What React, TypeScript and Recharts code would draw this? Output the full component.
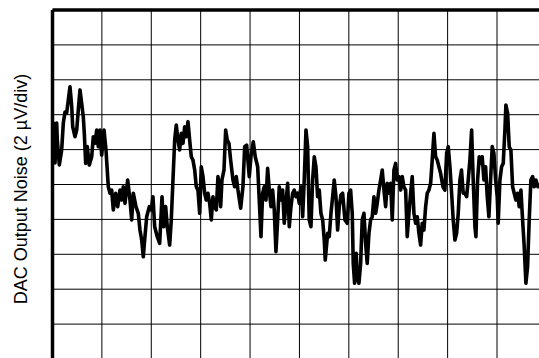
import React from "react";
import { LineChart, Line, XAxis, YAxis, CartesianGrid, ReferenceLine } from "recharts";

// time in divisions (10 div across), noise in µV (2 µV/div, 0..20)
const timeDiv: number[] = [
  0.030, 0.051, 0.085, 0.097, 0.138, 0.186, 0.219, 0.253, 0.287, 0.320,
  0.354, 0.389, 0.409, 0.455, 0.490, 0.522, 0.557, 0.591, 0.623, 0.644,
  0.672, 0.704, 0.745, 0.794, 0.826, 0.860, 0.895, 0.927, 0.962, 0.996,
  1.043, 1.083, 1.130, 1.164, 1.198, 1.231, 1.279, 1.320, 1.366, 1.401,
  1.433, 1.468, 1.522, 1.569, 1.603, 1.636, 1.690, 1.737, 1.771, 1.806,
  1.838, 1.872, 1.907, 1.960, 2.000, 2.034, 2.069, 2.121, 2.170, 2.217,
  2.251, 2.291, 2.324, 2.372, 2.405, 2.439, 2.474, 2.506, 2.540, 2.575,
  2.607, 2.642, 2.676, 2.709, 2.743, 2.777, 2.810, 2.844, 2.879, 2.911,
  2.945, 2.980, 3.012, 3.047, 3.081, 3.113, 3.148, 3.182, 3.215, 3.249,
  3.283, 3.316, 3.350, 3.385, 3.405, 3.431, 3.472, 3.506, 3.538, 3.573,
  3.607, 3.654, 3.688, 3.721, 3.755, 3.810, 3.856, 3.891, 3.931, 3.984,
  4.018, 4.065, 4.105, 4.154, 4.186, 4.221, 4.255, 4.287, 4.322, 4.356,
  4.389, 4.423, 4.457, 4.490, 4.524, 4.559, 4.591, 4.626, 4.660, 4.692,
  4.727, 4.761, 4.794, 4.828, 4.862, 4.895, 4.929, 4.964, 4.996, 5.030,
  5.065, 5.097, 5.132, 5.166, 5.198, 5.233, 5.267, 5.300, 5.334, 5.368,
  5.401, 5.435, 5.470, 5.502, 5.522, 5.571, 5.603, 5.638, 5.672, 5.704,
  5.739, 5.773, 5.806, 5.840, 5.874, 5.921, 5.968, 6.002, 6.036, 6.069,
  6.089, 6.117, 6.150, 6.170, 6.204, 6.239, 6.271, 6.306, 6.340, 6.372,
  6.407, 6.441, 6.474, 6.508, 6.543, 6.575, 6.609, 6.644, 6.676, 6.711,
  6.745, 6.777, 6.812, 6.846, 6.879, 6.913, 6.947, 6.980, 7.014, 7.049,
  7.081, 7.115, 7.150, 7.182, 7.217, 7.251, 7.283, 7.318, 7.352, 7.385,
  7.419, 7.453, 7.486, 7.520, 7.555, 7.587, 7.621, 7.656, 7.688, 7.723,
  7.757, 7.789, 7.824, 7.858, 7.905, 7.945, 7.980, 8.012, 8.047, 8.081,
  8.113, 8.148, 8.182, 8.215, 8.249, 8.281, 8.316, 8.350, 8.385, 8.417,
  8.451, 8.486, 8.518, 8.553, 8.573, 8.607, 8.640, 8.674, 8.700, 8.735,
  8.769, 8.802, 8.836, 8.870, 8.903, 8.937, 8.972, 9.004, 9.024, 9.059,
  9.093, 9.126, 9.160, 9.180, 9.215, 9.247, 9.281, 9.316, 9.348, 9.383,
  9.417, 9.449, 9.484, 9.518, 9.551, 9.585, 9.619, 9.652, 9.686, 9.721,
  9.753, 9.788, 9.828, 9.879,
];

const noiseUV: number[] = [
  13.51, 11.23, 13.52, 12.55, 11.12, 11.98, 13.52, 14.15, 14.10, 14.84,
  15.60, 14.46, 13.31, 12.74, 13.12, 14.27, 15.42, 14.65, 13.89, 12.93,
  11.21, 12.17, 11.12, 11.59, 12.74, 12.36, 13.12, 12.17, 13.12, 11.69,
  13.12, 11.98, 9.87, 9.50, 9.68, 8.54, 9.50, 8.73, 9.68, 9.11,
  9.87, 8.92, 10.26, 9.11, 7.97, 9.50, 8.73, 8.35, 7.39, 6.82,
  5.86, 7.01, 8.15, 8.73, 8.54, 9.30, 7.58, 7.01, 6.63, 9.30,
  7.58, 8.73, 7.58, 6.53, 7.97, 10.26, 12.55, 13.41, 12.55, 11.98,
  12.93, 12.36, 13.31, 12.74, 13.60, 12.55, 11.59, 11.40, 10.83, 9.87,
  9.68, 8.35, 11.02, 10.45, 9.50, 9.11, 9.50, 8.92, 7.97, 9.30,
  8.73, 8.54, 10.45, 9.68, 8.73, 10.26, 10.83, 13.12, 12.55, 12.36,
  11.40, 10.26, 9.87, 10.45, 9.68, 8.64, 9.87, 12.17, 12.26, 10.45,
  11.59, 12.45, 11.59, 11.02, 9.11, 7.01, 9.50, 9.87, 9.11, 10.93,
  9.68, 8.73, 9.68, 8.54, 6.15, 7.97, 9.87, 9.11, 9.68, 7.78,
  8.92, 10.07, 7.58, 8.73, 9.50, 9.68, 9.30, 9.50, 8.92, 9.87,
  8.15, 10.26, 13.12, 12.17, 7.97, 7.58, 10.26, 11.59, 11.02, 9.30,
  9.68, 8.35, 7.97, 6.82, 5.67, 7.20, 7.01, 8.35, 9.30, 10.26,
  9.30, 7.39, 8.73, 9.40, 9.50, 7.97, 7.78, 9.50, 9.68, 8.35,
  5.48, 4.34, 6.06, 4.72, 4.34, 5.48, 7.97, 8.35, 6.63, 5.48,
  7.20, 7.97, 8.15, 9.30, 8.35, 8.92, 9.68, 10.26, 10.83, 9.68,
  8.73, 10.07, 9.50, 10.07, 7.97, 10.83, 11.21, 10.26, 10.45, 9.68,
  10.45, 9.87, 9.68, 7.01, 8.35, 9.50, 10.45, 8.35, 7.78, 8.15,
  7.20, 6.53, 7.78, 7.39, 8.73, 9.50, 9.68, 10.07, 11.40, 12.93,
  11.59, 11.40, 11.02, 10.64, 9.87, 9.68, 11.79, 12.17, 11.02, 9.50,
  7.97, 6.82, 7.20, 8.35, 10.26, 10.83, 9.50, 9.50, 9.30, 10.26,
  11.40, 13.12, 10.26, 7.58, 7.01, 10.26, 11.59, 11.21, 11.59, 10.26,
  11.02, 9.30, 8.15, 10.26, 12.17, 11.79, 10.26, 9.30, 7.78, 10.26,
  11.02, 11.21, 13.12, 14.56, 14.08, 12.17, 11.98, 9.87, 9.50, 9.11,
  9.50, 8.73, 9.68, 7.97, 6.44, 4.34, 5.29, 7.97, 10.26, 10.45,
  9.87, 10.26, 9.87, 9.97,
];

const xTicks: number[] = [0, 1, 2, 3, 4, 5, 6, 7, 8, 9, 10];
const yTicks: number[] = [0, 2, 4, 6, 8, 10, 12, 14, 16, 18, 20];
const yLabel = "DAC Output Noise (2 \u00b5V/div)";

const data = timeDiv.map((t, i) => ({ t, v: noiseUV[i] }));

export default function App() {
  return (
    <div
      style={{
        position: "fixed",
        left: 0,
        top: 0,
        width: 539,
        height: 358,
        overflow: "hidden",
        background: "#fff",
      }}
    >
      <div
        style={{
          position: "absolute",
          left: 20.5,
          top: 189,
          transform: "translate(-50%, -50%) rotate(-90deg)",
          whiteSpace: "nowrap",
          fontFamily: "'Liberation Sans', Arial, sans-serif",
          fontSize: 18,
          color: "#000",
          lineHeight: 1.15,
        }}
      >
        {yLabel}
      </div>
      <div style={{ position: "absolute", left: 0, top: 0 }}>
        <LineChart
          width={560}
          height={380}
          data={data}
          margin={{ top: 10, right: 13.6, bottom: 21, left: 52.5 }}
        >
          <CartesianGrid stroke="#000" strokeWidth={1} />
          <XAxis type="number" dataKey="t" domain={[0, 10]} ticks={xTicks} hide />
          <YAxis type="number" domain={[0, 20]} ticks={yTicks} hide />
          <ReferenceLine x={0} stroke="#000" strokeWidth={3.5} />
          <ReferenceLine y={20} stroke="#000" strokeWidth={3.5} />
          <Line
            type="linear"
            dataKey="v"
            stroke="#000"
            strokeWidth={3.6}
            strokeLinejoin="round"
            strokeLinecap="round"
            dot={false}
            isAnimationActive={false}
          />
        </LineChart>
      </div>
    </div>
  );
}
